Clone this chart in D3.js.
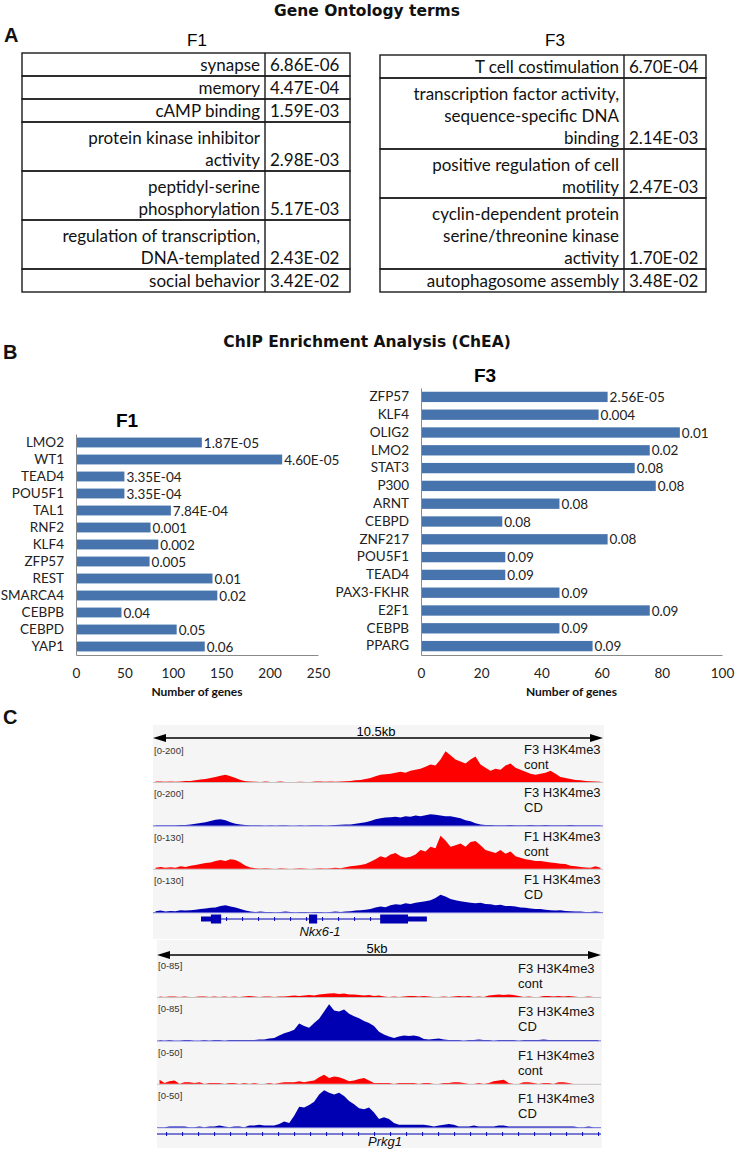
<!DOCTYPE html>
<html>
<head>
<meta charset="utf-8">
<script src="https://cdn.jsdelivr.net/npm/d3@7"></script>
<style>
body { margin: 0; background: #fff; }
</style>
</head>
<body>
<svg id="fig" width="735" height="1150"></svg>
<script>
// ---- A: gene ontology tables
var goF1Terms = [["synapse"], ["memory"], ["cAMP binding"], ["protein kinase inhibitor", "activity"],
    ["peptidyl-serine", "phosphorylation"], ["regulation of transcription,", "DNA-templated"], ["social behavior"]];
var goF1P = ["6.86E-06", "4.47E-04", "1.59E-03", "2.98E-03", "5.17E-03", "2.43E-02", "3.42E-02"];
var goF3Terms = [["T cell costimulation"], ["transcription factor activity,", "sequence-specific DNA", "binding"],
    ["positive regulation of cell", "motility"], ["cyclin-dependent protein", "serine/threonine kinase", "activity"],
    ["autophagosome assembly"]];
var goF3P = ["6.70E-04", "2.14E-03", "2.47E-03", "1.70E-02", "3.48E-02"];

// ---- B: ChEA bars
var f1Genes = ["LMO2", "WT1", "TEAD4", "POU5F1", "TAL1", "RNF2", "KLF4", "ZFP57", "REST", "SMARCA4", "CEBPB", "CEBPD", "YAP1"];
var f1Counts = [130, 213, 50, 50, 98, 77, 85, 76, 141, 146, 47, 104, 133];
var f1PVals = ["1.87E-05", "4.60E-05", "3.35E-04", "3.35E-04", "7.84E-04", "0.001", "0.002", "0.005", "0.01", "0.02", "0.04", "0.05", "0.06"];
var f1Ticks = [0, 50, 100, 150, 200, 250];

var f3Genes = ["ZFP57", "KLF4", "OLIG2", "LMO2", "STAT3", "P300", "ARNT", "CEBPD", "ZNF217", "POU5F1", "TEAD4", "PAX3-FKHR", "E2F1", "CEBPB", "PPARG"];
var f3Counts = [62, 59, 86, 76, 71, 78, 46, 27, 62, 28, 28, 46, 76, 46, 57];
var f3PVals = ["2.56E-05", "0.004", "0.01", "0.02", "0.08", "0.08", "0.08", "0.08", "0.08", "0.09", "0.09", "0.09", "0.09", "0.09", "0.09"];
var f3Ticks = [0, 20, 40, 60, 80, 100];

// ---- C: H3K4me3 coverage (read per 5px bin)
var trackNames = ["F3 H3K4me3", "F3 H3K4me3", "F1 H3K4me3", "F1 H3K4me3"];
var trackConds = ["cont", "CD", "cont", "CD"];
var nkxRanges = [200, 200, 130, 130];
var prkgRanges = [85, 85, 50, 50];

var nkxF3Cont = [2,2,1,2,1,2,5, 5,8,12,15,20,25,30,35,28,20,10,4,2,
    1,0,2,0,0,2,0,0,0,1,0,0,2,2,1,2,1,2,4,
    5,8,10,15,20,28,35,38,40,45,50,45,55,60,65,75,85,80,110,150,130,110,100,90,110,125,85,70,55,65,
    60,80,90,70,60,50,40,35,40,45,55,40,25,20,15,10,8,5,4,2,1];
var nkxF3CD = [1,1,1,1,1,2,2, 5,8,12,15,22,28,30,25,15,8,4,2,1,
    1,1,0,1,0,1,1,0,0,1,0,1,1,1,0,1,2,3,4,
    5,8,12,15,22,30,35,38,40,42,38,45,42,48,45,50,55,52,48,45,45,40,35,25,20,10,4,2,2,1,
    1,1,2,1,1,1,2,1,1,2,1,1,1,1,2,1,1,1,1,1,1];
var nkxF1Cont = [3,6,3,5,3,8,6, 10,12,15,18,20,25,28,25,30,28,20,10,4,
    2,1,2,1,0,2,1,0,1,2,1,0,1,2,1,2,3,2,5,
    8,10,12,15,22,30,40,35,45,50,40,35,38,45,60,55,70,65,105,90,70,75,80,70,85,88,75,60,55,50,
    60,48,55,40,35,30,28,25,25,22,20,18,16,15,10,8,6,4,3,8,3];
var nkxF1CD = [3,5,2,4,3,6,5, 6,8,10,12,14,15,20,22,18,15,10,5,2,
    1,2,1,1,0,1,2,1,0,1,1,0,1,1,0,1,2,1,2,
    3,5,6,8,10,15,18,16,22,25,24,28,26,30,32,35,38,45,55,50,42,38,35,32,30,28,30,26,25,22,
    24,20,20,18,15,14,12,10,10,8,6,5,6,4,3,2,2,1,1,2,1];

var prkgF3Cont = [1,0,1,1,0,1,0,0,1,1, 0,1,0,1,0,1,0,1,2,1, 0,1,1,0,1,1,2,3,2,3,
    4,3,5,6,7,8,6,7,5,5, 4,3,4,2,3,1,0,1,0,1, 2,2,1,2,1,0,0,1,0,1,
    2,1,2,0,1,0,3,4,5,4, 5,4,2,0,1,0,0,2,2,1, 2,1,2,1,0,0,1,0,0];
var prkgF3CD = [1,0,1,0,0,1,1,0,0,1, 0,1,1,0,1,1,1,1,1,1,
    2,2,4,5,10,15,18,22,35,30, 26,36,45,60,75,62,60,64,55,50, 46,40,36,30,18,12,8,5,8,10, 9,10,8,3,2,3,4,2,1,
    1,1,0,1,1,2,1,1,0,1, 1,1,1,0,1,1,1,1,2,1, 1,1,1,1,1,1,1,1,1,1];
var prkgF1Cont = [5,1,3,4,0,2,2,1,2,0, 1,1,1,0,1,1,0,1,0,1, 0,0,1,0,1,2,2,2,3,2,
    3,4,8,11,7,9,8,6,3,4, 6,7,4,1,1,1,1,0,1,1, 1,1,0,1,1,0,0,1,1,2,
    2,1,0,0,1,0,1,3,4,5, 1,0,0,2,2,1,0,1,1,0, 2,2,1,0,0,0,0,0,0];
var prkgF1CD = [0,0,1,1,1,1,0,0,1,0, 1,1,2,1,0,1,1,0,2,2, 3,2,2,2,4,7,5,14,25,24,
    27,31,40,45,42,40,42,38,32,28, 23,22,24,18,10,12,10,5,3,3, 3,3,3,3,2,1,2,3,4,3,
    1,1,1,2,1,1,1,1,2,2, 1,1,1,1,1,1,1,1,1,1, 1,1,1,1,0,0,1,0,0];

// gene models, kb from left edge of window
var nkxExons = [[1.12, 1.35, 5], [1.35, 1.59, 9], [3.64, 3.83, 9], [5.30, 5.95, 9], [5.95, 6.39, 5]];

var ARIAL = "'Liberation Sans', Arial, sans-serif";
var WIDE = "'DejaVu Sans', 'Liberation Sans', sans-serif";
var CALI = "Lato, 'Open Sans', sans-serif";
var barColor = "#4874ad";
var red = "#ff0000", blue = "#0000b2";

var svg = d3.select("#fig");

function label(x, y, txt, font, anchor) {
    return svg.append("text").attr("x", x).attr("y", y)
        .attr("text-anchor", anchor || "start")
        .style("font", font).attr("fill", "#111").text(txt);
}

label(367, 16, "Gene Ontology terms", "bold 15.5px " + WIDE, "middle");
label(4, 42, "A", "bold 20px " + ARIAL);
label(3, 359, "B", "bold 20px " + ARIAL);
label(3, 724, "C", "bold 20px " + ARIAL);

// ---- tables
function drawTable(terms, pvals, title, titleX, x0, xDiv, x1, y0) {
    var g = svg.append("g");
    g.append("text").attr("x", titleX).attr("y", 46).attr("text-anchor", "middle")
        .style("font", "17px " + ARIAL).text(title);
    var y = y0;
    terms.forEach(function(lines, i) {
        var h = lines.length == 1 ? 23 : 22 * lines.length + 5;
        g.append("rect").attr("x", x0).attr("y", y).attr("width", x1 - x0).attr("height", h)
            .attr("fill", "none").attr("stroke", "#1a1a1a").attr("stroke-width", 1.4);
        g.append("line").attr("x1", xDiv).attr("x2", xDiv).attr("y1", y).attr("y2", y + h)
            .attr("stroke", "#1a1a1a").attr("stroke-width", 1.4);
        lines.forEach(function(t, j) {
            g.append("text").attr("x", xDiv - 5).attr("y", y + h - 5 - 22 * (lines.length - 1 - j))
                .attr("text-anchor", "end").style("font", "17px " + CALI).attr("fill", "#111").text(t);
        });
        g.append("text").attr("x", xDiv + 5).attr("y", y + h - 5)
            .style("font", "17px " + CALI).attr("fill", "#111").text(pvals[i]);
        y += h;
    });
}
drawTable(goF1Terms, goF1P, "F1", 197, 22, 265, 350, 53);
drawTable(goF3Terms, goF3P, "F3", 555, 380, 624, 706, 55);

// ---- bar charts
label(367, 347, "ChIP Enrichment Analysis (ChEA)", "bold 15.5px " + WIDE, "middle");

function drawBars(genes, counts, pvals, ticks, title, xr, yr, titlePos) {
    var g = svg.append("g");
    var x = d3.scaleLinear().domain([0, ticks[ticks.length - 1]]).range(xr);
    var y = d3.scaleBand().domain(genes).range(yr).paddingInner(0.42).paddingOuter(0.21);

    g.append("text").attr("x", titlePos[0]).attr("y", titlePos[1]).attr("text-anchor", "middle")
        .style("font", "bold 19px " + ARIAL).text(title);

    g.selectAll(".bar").data(genes).enter().append("rect")
        .attr("x", x(0)).attr("y", function(d) { return y(d); })
        .attr("width", function(d, i) { return x(counts[i]) - x(0); })
        .attr("height", y.bandwidth())
        .attr("fill", barColor);

    g.selectAll(".val").data(genes).enter().append("text")
        .attr("x", function(d, i) { return x(counts[i]) + 2; })
        .attr("y", function(d) { return y(d) + y.bandwidth() / 2 + 5; })
        .style("font", "13.5px " + CALI).attr("fill", "#222")
        .text(function(d, i) { return pvals[i]; });

    var xa = g.append("g").attr("transform", "translate(0," + yr[1] + ")")
        .call(d3.axisBottom(x).tickValues(ticks).tickSize(0).tickPadding(13));
    var ya = g.append("g").attr("transform", "translate(" + xr[0] + ",0)")
        .call(d3.axisLeft(y).tickSize(0).tickPadding(12));
    [xa, ya].forEach(function(a) {
        a.select(".domain").attr("stroke", "#8a8a8a");
        a.selectAll("text").style("font", "13.5px " + CALI).attr("fill", "#222");
    });

    g.append("text").attr("x", (xr[0] + xr[1]) / 2).attr("y", 696).attr("text-anchor", "middle")
        .style("font", "bold 12px " + CALI).attr("fill", "#111").text("Number of genes");
}
drawBars(f1Genes, f1Counts, f1PVals, f1Ticks, "F1", [76, 318], [434, 655], [127, 427]);
drawBars(f3Genes, f3Counts, f3PVals, f3Ticks, "F3", [421, 722], [388, 655], [485, 382]);

// ---- IGV panels
function drawIgv(p) {
    var g = svg.append("g");
    var x = d3.scaleLinear().domain([0, p.kb]).range([p.x0, p.x1]);
    g.append("rect").attr("x", p.x0).attr("y", p.top).attr("width", p.x1 - p.x0 + 1).attr("height", p.bottom - p.top)
        .attr("fill", "#f5f5f5");

    // ruler
    g.append("line").attr("x1", p.x0 + 8).attr("x2", p.x1 - 8).attr("y1", p.rulerY).attr("y2", p.rulerY)
        .attr("stroke", "#000").attr("stroke-width", 1.5);
    g.append("path").attr("d", "M" + p.x0 + "," + p.rulerY + "l13,-4v8z").attr("fill", "#000");
    g.append("path").attr("d", "M" + p.x1 + "," + p.rulerY + "l-13,-4v8z").attr("fill", "#000");
    g.append("text").attr("x", x(p.kb / 2) - 2).attr("y", p.rulerY - 2).attr("text-anchor", "middle")
        .style("font", "13px " + ARIAL).text(p.rulerText);

    p.tracks.forEach(function(vals, i) {
        var top = p.trackTop + 43.4 * i, base = top + 41;
        var col = i % 2 == 0 ? red : blue;
        var bw = p.kb / vals.length;
        var ys = d3.scaleLinear().domain([0, p.ranges[i]]).range([base, base - 41]);
        g.append("line").attr("x1", p.x0).attr("x2", p.x1).attr("y1", base + 0.5).attr("y2", base + 0.5)
            .attr("stroke", i % 2 == 0 ? "#c9c0c0" : "#6a6ad8").attr("stroke-width", 1);
        var area = d3.area()
            .x(function(d, k) { return x((k + 0.5) * bw); })
            .y0(base).y1(function(d) { return ys(d); });
        g.append("path").attr("d", area(vals)).attr("fill", col);
        g.append("text").attr("x", p.x0 + 1).attr("y", top + 13)
            .style("font", "9.5px " + ARIAL).attr("fill", "#333")
            .text("[0-" + p.ranges[i] + "]");
        g.append("text").attr("x", p.nameX).attr("y", top + p.nameDy)
            .style("font", "13px " + ARIAL).attr("fill", "#111").text(trackNames[i]);
        g.append("text").attr("x", p.nameX).attr("y", top + p.nameDy + 15)
            .style("font", "13px " + ARIAL).attr("fill", "#111").text(trackConds[i]);
    });

    // gene model
    var gs = p.geneSpan, gy = p.geneY;
    g.append("line").attr("x1", x(gs[0])).attr("x2", x(gs[1])).attr("y1", gy).attr("y2", gy)
        .attr("stroke", blue).attr("stroke-width", 1);
    var step = x.invert(p.x0 + 16) - x.invert(p.x0);
    d3.range(gs[0] + step * 0.6, gs[1], step).forEach(function(k) {
        g.append("line").attr("x1", x(k)).attr("x2", x(k)).attr("y1", gy - 2).attr("y2", gy + 2)
            .attr("stroke", blue).attr("stroke-width", 1);
    });
    p.exons.forEach(function(e) {
        g.append("rect").attr("x", x(e[0])).attr("y", gy - e[2] / 2)
            .attr("width", x(e[1]) - x(e[0])).attr("height", e[2]).attr("fill", blue);
    });
    g.append("text").attr("x", p.geneLabelX).attr("y", p.geneLabelY).attr("text-anchor", "middle")
        .style("font", "italic 13px " + ARIAL).attr("fill", "#111").text(p.gene);
}

drawIgv({
    kb: 10.5, x0: 153, x1: 603, top: 725, bottom: 939, rulerY: 738, rulerText: "10.5kb",
    trackTop: 741, ranges: nkxRanges, tracks: [nkxF3Cont, nkxF3CD, nkxF1Cont, nkxF1CD],
    nameX: 524, nameDy: 13, geneSpan: [1.12, 6.39], geneY: 919, exons: nkxExons,
    gene: "Nkx6-1", geneLabelX: 320, geneLabelY: 936
});
drawIgv({
    kb: 5, x0: 157, x1: 601, top: 940, bottom: 1148, rulerY: 955, rulerText: "5kb",
    trackTop: 956, ranges: prkgRanges, tracks: [prkgF3Cont, prkgF3CD, prkgF1Cont, prkgF1CD],
    nameX: 518, nameDy: 17, geneSpan: [0, 5], geneY: 1134, exons: [],
    gene: "Prkg1", geneLabelX: 385, geneLabelY: 1146
});
</script>
</body>
</html>
